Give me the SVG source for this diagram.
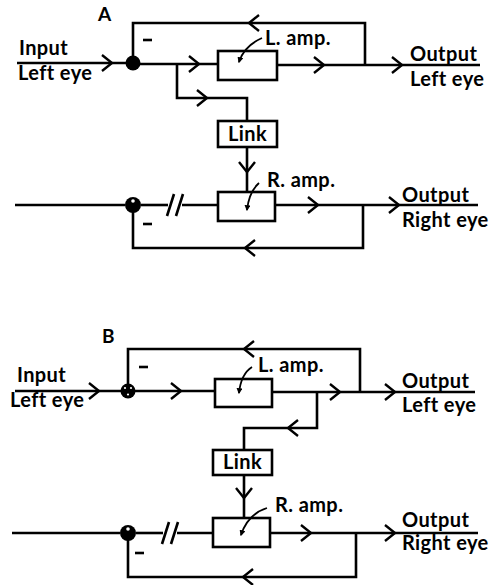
<svg xmlns="http://www.w3.org/2000/svg" width="493" height="585" viewBox="0 0 493 585">
<defs>
<style>
.ln{fill:none;stroke:#000;stroke-width:2.6;stroke-linejoin:miter;stroke-linecap:butt}
.bx{fill:none;stroke:#000;stroke-width:2.6}
.ch{fill:none;stroke:#000;stroke-width:2.4;stroke-linejoin:miter}
.thin{fill:none;stroke:#000;stroke-width:1.8}
text{font-family:"Lato","Open Sans","DejaVu Sans",sans-serif;font-size:20px;font-weight:bold;fill:#000;letter-spacing:0.4px}
.big{font-size:19px}
</style>
<path id="chev" class="ch" d="M-9,-8 L1,0 L-9,8"/>
<marker id="ah" viewBox="0 0 10 10" refX="8" refY="5" markerWidth="6" markerHeight="6" orient="auto" markerUnits="userSpaceOnUse">
<path d="M0,0 L10,5 L0,10 z" fill="#000"/>
</marker>
</defs>
<rect width="493" height="585" fill="#fff"/>

<g id="labelA"><text x="98" y="21" class="big">A</text></g>
<g id="labelB"><text x="102" y="343" class="big">B</text></g>

<g id="inputA"><text x="19" y="55">Input</text><text x="18" y="80">Left eye</text></g>
<g id="junctionA1"><circle cx="133" cy="63" r="7.5"/></g>
<g id="lampA"><rect class="bx" x="218" y="51" width="59" height="29"/><text x="265" y="45">L. amp.</text></g>
<g id="outLeftA"><text x="410" y="61">Output</text><text x="410" y="86">Left eye</text></g>
<g id="linkA"><rect class="bx" x="218" y="121" width="59" height="26"/><text x="247.5" y="141" text-anchor="middle">Link</text></g>
<g id="junctionA2"><circle cx="133" cy="205" r="8"/><circle cx="133" cy="201" r="1.8" fill="#fff"/></g>
<g id="rampA"><rect class="bx" x="218" y="192" width="57" height="29"/><text x="267" y="187">R. amp.</text></g>
<g id="outRightA"><text x="402" y="202">Output</text><text x="402" y="227">Right eye</text></g>

<g id="inputB"><text x="17" y="382">Input</text><text x="10" y="407">Left eye</text></g>
<g id="junctionB1"><circle cx="128" cy="391" r="7.5"/><circle cx="125" cy="388" r="1.1" fill="#fff"/><circle cx="131" cy="388" r="1.1" fill="#fff"/><circle cx="128" cy="394.5" r="1.1" fill="#fff"/></g>
<g id="lampB"><rect class="bx" x="215" y="379" width="57" height="28"/><text x="258" y="372">L. amp.</text></g>
<g id="outLeftB"><text x="402" y="388">Output</text><text x="402" y="412">Left eye</text></g>
<g id="linkB"><rect class="bx" x="213" y="450" width="59" height="25"/><text x="242.5" y="469" text-anchor="middle">Link</text></g>
<g id="junctionB2"><circle cx="128" cy="533" r="8"/><circle cx="128" cy="529" r="1.8" fill="#fff"/></g>
<g id="rampB"><rect class="bx" x="213" y="518" width="57" height="29"/><text x="275" y="512">R. amp.</text></g>
<g id="outRightB"><text x="402" y="527">Output</text><text x="402" y="550">Right eye</text></g>

<g id="connectors">
<!-- Diagram A -->
<path class="ln" d="M17,63 H126"/>
<path class="ln" d="M133,57 V23 H365 V65"/>
<path class="ln" d="M140,64 H218"/>
<path class="ln" d="M277,65 H480"/>
<path class="ln" d="M177,64 V98 H247 V121"/>
<path class="ln" d="M247,147 V192"/>
<path class="ln" d="M15,205 H125"/>
<path class="ln" d="M141,205 H168"/>
<path class="ln" d="M182,205 H218"/>
<path class="ln" d="M275,205 H478"/>
<path class="ln" d="M363,205 V248 H133 V212"/>
<path class="ln" d="M167,216 L174,194 M176,216 L183,194"/>
<path class="ln" d="M143,40 H152"/>
<path class="ln" d="M143,224 H152"/>
<use href="#chev" transform="translate(111,63)"/>
<use href="#chev" transform="translate(250,23) rotate(180)"/>
<use href="#chev" transform="translate(198,64)"/>
<use href="#chev" transform="translate(323,65)"/>
<use href="#chev" transform="translate(401,65)"/>
<use href="#chev" transform="translate(206,98)"/>
<use href="#chev" transform="translate(247,171) rotate(90)"/>
<use href="#chev" transform="translate(317,205)"/>
<use href="#chev" transform="translate(398,205)"/>
<use href="#chev" transform="translate(246,248) rotate(180)"/>
<path class="thin" d="M262,38 Q244,46 239,62" marker-end="url(#ah)"/>
<path class="thin" d="M259,183 Q249,192 247,210" marker-end="url(#ah)"/>

<!-- Diagram B -->
<path class="ln" d="M15,391 H121"/>
<path class="ln" d="M128,385 V349 H360 V393"/>
<path class="ln" d="M135,391 H215"/>
<path class="ln" d="M272,392 H475"/>
<path class="ln" d="M317,392 V428 H244 V450"/>
<path class="ln" d="M244,475 V518"/>
<path class="ln" d="M12,533 H120"/>
<path class="ln" d="M136,533 H163"/>
<path class="ln" d="M177,533 H213"/>
<path class="ln" d="M270,533 H478"/>
<path class="ln" d="M356,533 V577 H128 V540"/>
<path class="ln" d="M162,544 L169,522 M171,544 L178,522"/>
<path class="ln" d="M139,367 H148"/>
<path class="ln" d="M135,553 H144"/>
<use href="#chev" transform="translate(98,391)"/>
<use href="#chev" transform="translate(245,349) rotate(180)"/>
<use href="#chev" transform="translate(180,391)"/>
<use href="#chev" transform="translate(339,392)"/>
<use href="#chev" transform="translate(394,392)"/>
<use href="#chev" transform="translate(289,428) rotate(180)"/>
<use href="#chev" transform="translate(244,497) rotate(90)"/>
<use href="#chev" transform="translate(310,533)"/>
<use href="#chev" transform="translate(394,533)"/>
<use href="#chev" transform="translate(244,577) rotate(180)"/>
<path class="thin" d="M252,367 Q241,374 239,393" marker-end="url(#ah)"/>
<path class="thin" d="M267,508 Q248,514 241,535" marker-end="url(#ah)"/>
</g>
</svg>
